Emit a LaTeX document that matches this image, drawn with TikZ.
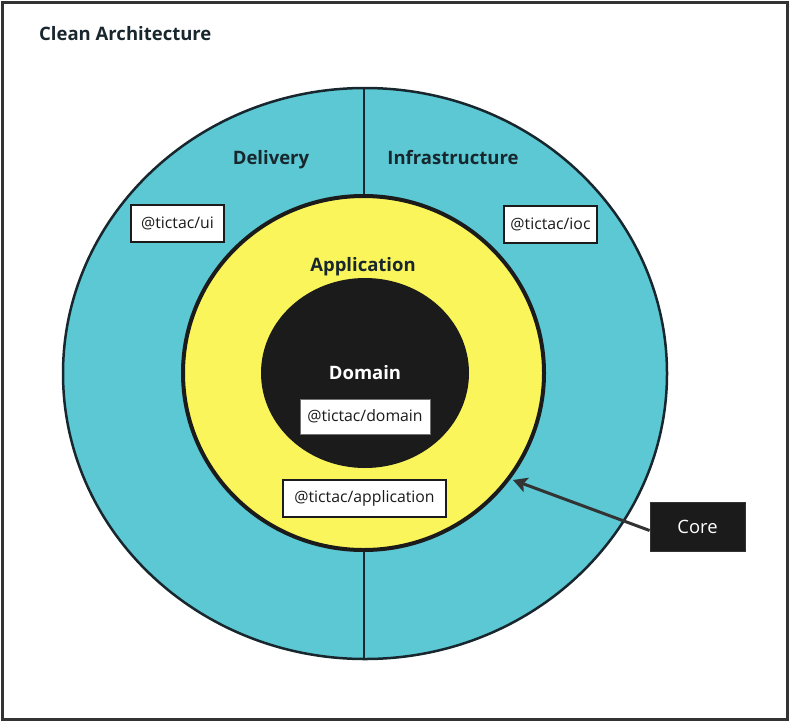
\documentclass[tikz,border=0pt]{standalone}
\usepackage{fontspec}
\setmainfont{Open Sans}
\usetikzlibrary{arrows.meta}
\definecolor{cyanring}{HTML}{5BC8D3}
\definecolor{yellowring}{HTML}{FAF55A}
\definecolor{coreblack}{HTML}{1B1B1B}
\definecolor{inkdark}{HTML}{18262D}
\definecolor{framegray}{HTML}{333333}
\begin{document}
\begin{tikzpicture}[x=1pt,y=-1pt,
  title/.style={font=\fontsize{18.5}{21}\selectfont\bfseries, text=inkdark, inner sep=0pt, anchor=base},
  pkg/.style={draw=coreblack, line width=2.5pt, fill=white, inner sep=0pt,
    font=\fontsize{15.8}{18}\selectfont, text=coreblack},
  corebox/.style={draw=framegray, line width=0.8pt, fill=coreblack, text=white, inner sep=0pt,
    font=\fontsize{18.4}{21}\selectfont},
  divider/.style={draw=inkdark, line width=2pt},
  pointer/.style={draw=framegray, line width=3pt, -{Stealth[length=14pt,width=15pt,inset=3pt]}}]
\useasboundingbox (0,0) rectangle (791,723);
% frame
\draw[framegray, line width=3pt] (2.5,2) rectangle (787,719.3);
% rings
\draw[fill=cyanring, draw=inkdark, line width=2.5pt] (365,373.5) ellipse [x radius=302pt, y radius=285.5pt];
\draw[divider] (364,88) -- (364,200);
\draw[divider] (364,546) -- (364,659);
\draw[fill=yellowring, draw=coreblack, line width=4pt] (363.5,373) ellipse [x radius=180.5pt, y radius=177pt];
\fill[coreblack] (365,373) ellipse [x radius=104pt, y radius=95pt];
% labels
\node[title, anchor=base west] (titlel) at (39,40.5) {Clean Architecture};
\node[title] (delivery) at (271,164.5) {Delivery};
\node[title] (infra) at (453,164.5) {Infrastructure};
\node[title] (applic) at (363,271.5) {Application};
\node[title, text=white] (domain) at (365,379.5) {Domain};
% packages
\node[pkg, minimum width=93pt, minimum height=37pt] (ui) at (177.5,223.5) {@tictac/ui};
\node[pkg, minimum width=93pt, minimum height=37pt] (ioc) at (550.5,224.5) {@tictac/ioc};
\node[pkg, minimum width=163pt, minimum height=37pt] (app) at (364.5,498.5) {@tictac/application};
\node[pkg, draw=framegray!70, line width=1pt, minimum width=130pt, minimum height=35pt] (dom) at (365,416.5) {@tictac/domain};
% core
\node[corebox, minimum width=95pt, minimum height=49pt] (core) at (697.5,526.5) {Core};
\coordinate (tip) at (513,480);
\draw[pointer] ([yshift=-4pt]core.west) -- (tip);
\end{tikzpicture}
\end{document}
